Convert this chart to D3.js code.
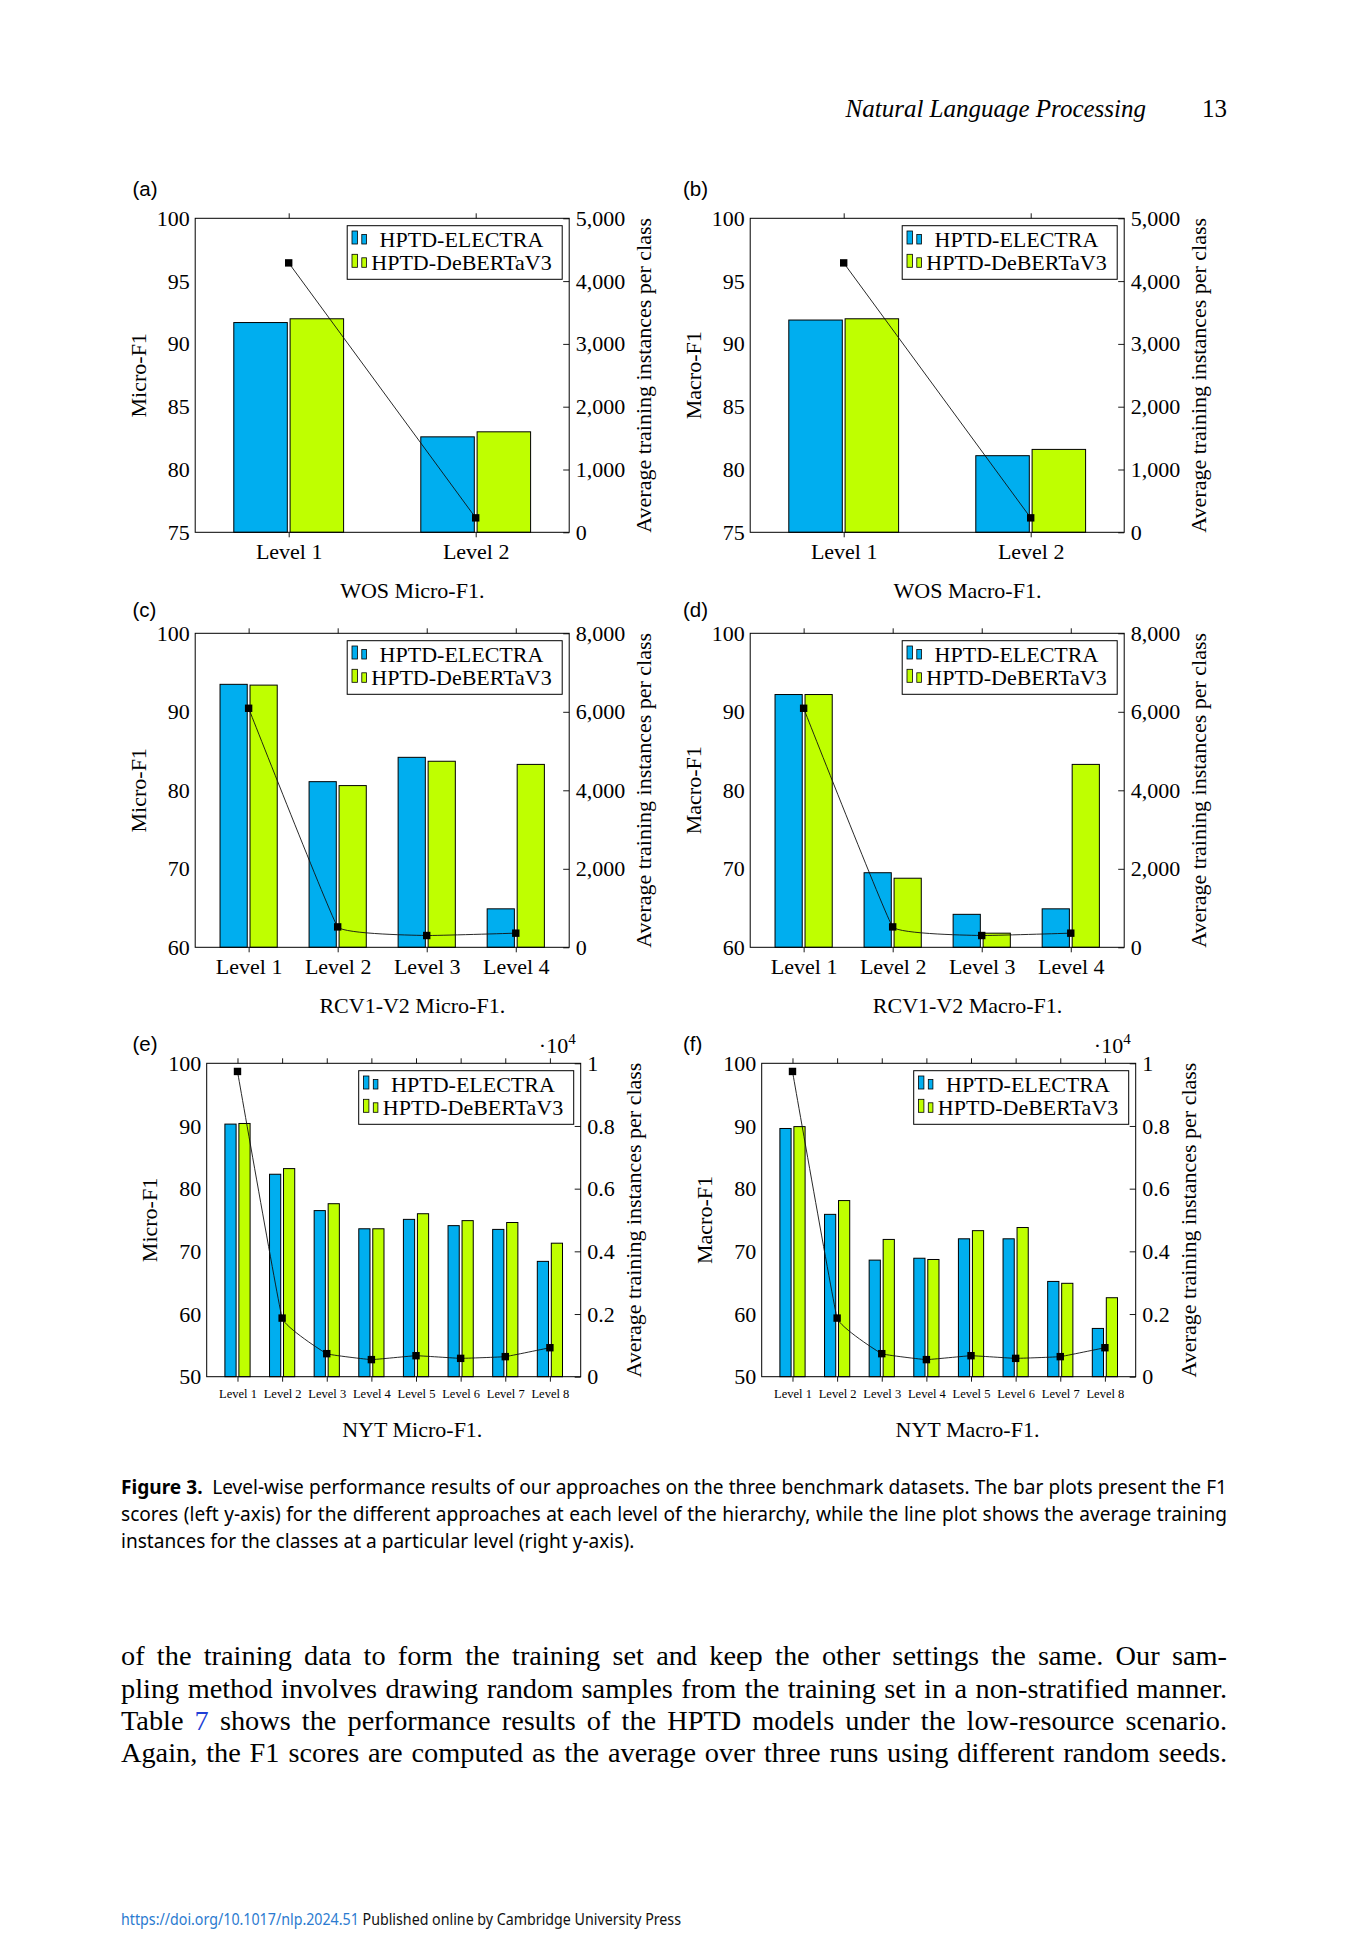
<!DOCTYPE html>
<html>
<head>
<meta charset="utf-8">
<script src="https://cdn.jsdelivr.net/npm/d3@7"></script>
<style>
  body { margin: 0; background: #fff; }
  svg { display: block; }
</style>
</head>
<body>
<svg id="page"></svg>
<script>
// ---- data ----
const wosLevels = ["Level 1", "Level 2"];
const rcvLevels = ["Level 1", "Level 2", "Level 3", "Level 4"];
const nytLevels = ["Level 1", "Level 2", "Level 3", "Level 4", "Level 5", "Level 6", "Level 7", "Level 8"];
const seriesNames = ["HPTD-ELECTRA", "HPTD-DeBERTaV3"];

const wosMicroElectra = [91.7, 82.6];
const wosMicroDeberta = [92.0, 83.0];
const wosMacroElectra = [91.9, 81.1];
const wosMacroDeberta = [92.0, 81.6];

const rcvMicroElectra = [93.5, 81.1, 84.2, 64.9];
const rcvMicroDeberta = [93.4, 80.6, 83.7, 83.3];
const rcvMacroElectra = [92.2, 69.5, 64.2, 64.9];
const rcvMacroDeberta = [92.2, 68.8, 61.8, 83.3];

const nytMicroElectra = [90.3, 82.3, 76.5, 73.6, 75.1, 74.1, 73.5, 68.4];
const nytMicroDeberta = [90.4, 83.2, 77.6, 73.6, 76.0, 74.9, 74.6, 71.3];
const nytMacroElectra = [89.6, 75.9, 68.6, 68.9, 72.0, 72.0, 65.2, 57.7];
const nytMacroDeberta = [89.9, 78.1, 71.9, 68.7, 73.3, 73.8, 64.9, 62.6];

// average training instances per class
const wosInstances = [4290, 230];
const rcvInstances = [6090, 520, 300, 360];
const nytInstances = [9740, 1870, 735, 545, 670, 585, 640, 925];

const wosF1Ticks = [75, 80, 85, 90, 95, 100];
const rcvF1Ticks = [60, 70, 80, 90, 100];
const nytF1Ticks = [50, 60, 70, 80, 90, 100];
const wosInstTicks = [0, 1000, 2000, 3000, 4000, 5000];
const rcvInstTicks = [0, 2000, 4000, 6000, 8000];
const nytInstTicks = [0, 2000, 4000, 6000, 8000, 10000];

const COLORS = ["#00aeef", "#bfff00"];
const SERIF = "'Liberation Serif', 'Times New Roman', serif";
const SANS = "'Liberation Sans', Arial, sans-serif";

const PAGE_W = 1370;
const PAGE_H = 1944;
const W = 374;
const GAP = 2.8;

const svg = d3.select("#page").attr("width", PAGE_W).attr("height", PAGE_H);
svg.append("rect").attr("width", PAGE_W).attr("height", PAGE_H).attr("fill", "#fff");

const rows = [
  { top: 218.3, h: 314, lefts: [195.2, 750.2], tagY: 196, titleY: 598.3, tickY: 27, tickFont: 22, y2LabelOff: 82 },
  { top: 633.3, h: 314, lefts: [195.2, 750.2], tagY: 616.5, titleY: 1013.3, tickY: 27, tickFont: 22, y2LabelOff: 82 },
  { top: 1063.3, h: 313.4, lefts: [206.7, 761.7], tagY: 1050.5, titleY: 1436.7, tickY: 21, tickFont: 12.5, y2LabelOff: 60 },
];
const titleX = [412.3, 967.5];
const tagX = [132.5, 683];

const commaFmt = d3.format(",");
const sciFmt = (d) => d3.format("~g")(d / 1e4);

const panels = [
  { row: 0, col: 0, tag: "(a)", levels: wosLevels, series: [wosMicroElectra, wosMicroDeberta], inst: wosInstances,
    f1Ticks: wosF1Ticks, instTicks: wosInstTicks, fmt: commaFmt, yLabel: "Micro-F1", title: "WOS Micro-F1.", pad: 0.5, barW: 53.5 },
  { row: 0, col: 1, tag: "(b)", levels: wosLevels, series: [wosMacroElectra, wosMacroDeberta], inst: wosInstances,
    f1Ticks: wosF1Ticks, instTicks: wosInstTicks, fmt: commaFmt, yLabel: "Macro-F1", title: "WOS Macro-F1.", pad: 0.5, barW: 53.5 },
  { row: 1, col: 0, tag: "(c)", levels: rcvLevels, series: [rcvMicroElectra, rcvMicroDeberta], inst: rcvInstances,
    f1Ticks: rcvF1Ticks, instTicks: rcvInstTicks, fmt: commaFmt, yLabel: "Micro-F1", title: "RCV1-V2 Micro-F1.", pad: 0.6, barW: 27.2 },
  { row: 1, col: 1, tag: "(d)", levels: rcvLevels, series: [rcvMacroElectra, rcvMacroDeberta], inst: rcvInstances,
    f1Ticks: rcvF1Ticks, instTicks: rcvInstTicks, fmt: commaFmt, yLabel: "Macro-F1", title: "RCV1-V2 Macro-F1.", pad: 0.6, barW: 27.2 },
  { row: 2, col: 0, tag: "(e)", levels: nytLevels, series: [nytMicroElectra, nytMicroDeberta], inst: nytInstances,
    f1Ticks: nytF1Ticks, instTicks: nytInstTicks, fmt: sciFmt, sci: true, yLabel: "Micro-F1", title: "NYT Micro-F1.", pad: 0.69, barW: 11.2 },
  { row: 2, col: 1, tag: "(f)", levels: nytLevels, series: [nytMacroElectra, nytMacroDeberta], inst: nytInstances,
    f1Ticks: nytF1Ticks, instTicks: nytInstTicks, fmt: sciFmt, sci: true, yLabel: "Macro-F1", title: "NYT Macro-F1.", pad: 0.69, barW: 11.2 },
];

function styleAxis(sel, size) {
  sel.attr("font-family", SERIF).attr("font-size", size);
  sel.select(".domain").remove();
  sel.selectAll("line").attr("stroke", "#000").attr("stroke-width", 0.9);
  sel.selectAll("text").attr("fill", "#000").attr("font-family", SERIF);
}

function drawPanel(p) {
  const r = rows[p.row];
  const left = r.lefts[p.col];
  const H = r.h;
  const n = p.levels.length;

  const g = svg.append("g").attr("transform", `translate(${left},${r.top})`);

  const x = d3.scaleLinear().domain([-p.pad, n - 1 + p.pad]).range([0, W]);
  const y = d3.scaleLinear().domain(d3.extent(p.f1Ticks)).range([H, 0]);
  const y2 = d3.scaleLinear().domain(d3.extent(p.instTicks)).range([H, 0]);

  // bars
  p.series.forEach((vals, s) => {
    g.append("g")
      .selectAll("rect")
      .data(vals)
      .join("rect")
      .attr("x", (d, i) => x(i) + (s === 0 ? -(GAP / 2 + p.barW) : GAP / 2))
      .attr("width", p.barW)
      .attr("y", (d) => y(d))
      .attr("height", (d) => H - y(d))
      .attr("fill", COLORS[s])
      .attr("stroke", "#000")
      .attr("stroke-width", 1);
  });

  // left axis (labels only)
  const yAxis = g.append("g").call(d3.axisLeft(y).tickValues(p.f1Ticks).tickSize(0).tickPadding(5.5));
  styleAxis(yAxis, 22);

  // right axis, ticks pointing in
  const y2Axis = g
    .append("g")
    .attr("transform", `translate(${W},0)`)
    .call(d3.axisRight(y2).tickValues(p.instTicks).tickSizeInner(-6).tickSizeOuter(0).tickPadding(6.5).tickFormat(p.fmt));
  styleAxis(y2Axis, 22);

  // bottom axis
  const xAxis = g
    .append("g")
    .attr("transform", `translate(0,${H})`)
    .call(d3.axisBottom(x).tickValues(d3.range(n)).tickSize(5).tickFormat((i) => p.levels[i]));
  styleAxis(xAxis, r.tickFont);
  xAxis.selectAll("text").attr("y", r.tickY).attr("dy", 0);

  // top ticks
  const topAxis = g.append("g").call(d3.axisTop(x).tickValues(d3.range(n)).tickSize(5).tickFormat(""));
  styleAxis(topAxis, 10);

  // frame
  g.append("rect")
    .attr("width", W)
    .attr("height", H)
    .attr("fill", "none")
    .attr("stroke", "#000")
    .attr("stroke-width", 1);

  // line of instances, only lightly rounded
  const line = d3
    .line()
    .x((d, i) => x(i))
    .y((d) => y2(d))
    .curve(d3.curveCardinal.tension(0.8));

  g.append("path")
    .datum(p.inst)
    .attr("d", line)
    .attr("fill", "none")
    .attr("stroke", "#111")
    .attr("stroke-width", 0.9);

  g.append("g")
    .selectAll("rect")
    .data(p.inst)
    .join("rect")
    .attr("x", (d, i) => x(i) - 3.7)
    .attr("y", (d) => y2(d) - 3.7)
    .attr("width", 7.4)
    .attr("height", 7.4)
    .attr("fill", "#000");

  // legend
  const lw = 215, lh = 53.6;
  const lg = g.append("g").attr("transform", `translate(${W - 7 - lw},7.4)`);
  lg.append("rect")
    .attr("width", lw)
    .attr("height", lh)
    .attr("fill", "#fff")
    .attr("stroke", "#000")
    .attr("stroke-width", 1);
  seriesNames.forEach((name, s) => {
    const dy = s * 23.3;
    lg.append("rect").attr("x", 4.8).attr("y", 5.3 + dy).attr("width", 5.4).attr("height", 13)
      .attr("fill", COLORS[s]).attr("stroke", "#000").attr("stroke-width", 0.8);
    lg.append("rect").attr("x", 14.6).attr("y", 8.8 + dy).attr("width", 4.6).attr("height", 9.5)
      .attr("fill", COLORS[s]).attr("stroke", "#000").attr("stroke-width", 0.8);
    lg.append("text")
      .attr("x", 114.3)
      .attr("y", 21 + dy)
      .attr("text-anchor", "middle")
      .attr("font-family", SERIF)
      .attr("font-size", 22)
      .text(name);
  });

  // x10^4 marker
  if (p.sci) {
    const t = g.append("text")
      .attr("x", W - 5)
      .attr("y", -10)
      .attr("text-anchor", "end")
      .attr("font-family", SERIF)
      .attr("font-size", 22);
    t.append("tspan").text("\u00b710");
    t.append("tspan").attr("font-size", 15).attr("dy", -9).text("4");
  }

  // axis titles
  g.append("text")
    .attr("transform", `translate(-49.5,${H / 2}) rotate(-90)`)
    .attr("text-anchor", "middle")
    .attr("font-family", SERIF)
    .attr("font-size", 22)
    .text(p.yLabel);

  g.append("text")
    .attr("transform", `translate(${W + r.y2LabelOff},${H / 2}) rotate(-90)`)
    .attr("text-anchor", "middle")
    .attr("font-family", SERIF)
    .attr("font-size", 22)
    .text("Average training instances per class");

  // sub-caption and panel tag
  svg.append("text")
    .attr("x", titleX[p.col])
    .attr("y", r.titleY)
    .attr("text-anchor", "middle")
    .attr("font-family", SERIF)
    .attr("font-size", 22)
    .text(p.title);

  svg.append("text")
    .attr("x", tagX[p.col])
    .attr("y", r.tagY)
    .attr("font-family", SANS)
    .attr("font-size", 20.5)
    .text(p.tag);
}

panels.forEach(drawPanel);

// ---- page text ----
function justify(sel, width) {
  const node = sel.node();
  const natural = node.getComputedTextLength();
  const spaces = (node.textContent.match(/ /g) || []).length;
  if (natural < width && spaces) sel.attr("word-spacing", (width - natural) / spaces);
  else sel.attr("textLength", width).attr("lengthAdjust", "spacingAndGlyphs");
}

const TEXT_L = 121;
const TEXT_R = 1227;

// running head
svg.append("text")
  .attr("x", 1146).attr("y", 117)
  .attr("text-anchor", "end")
  .attr("font-family", SERIF).attr("font-style", "italic").attr("font-size", 25)
  .text("Natural Language Processing");
svg.append("text")
  .attr("x", TEXT_R).attr("y", 117)
  .attr("text-anchor", "end")
  .attr("font-family", SERIF).attr("font-size", 25)
  .text("13");

// figure caption (condensed sans)
const captionLines = [
  "Level-wise performance results of our approaches on the three benchmark datasets. The bar plots present the F1",
  "scores (left y-axis) for the different approaches at each level of the hierarchy, while the line plot shows the average training",
  "instances for the classes at a particular level (right y-axis).",
];
const capG = svg.append("g").attr("font-family", "'Noto Sans', 'Open Sans', sans-serif").attr("font-size", 19);
const capTexts = captionLines.map((txt, i) => {
  const t = capG.append("text").attr("x", 0).attr("y", 1494 + i * 27);
  if (i === 0) {
    t.append("tspan").attr("font-weight", "bold").text("Figure 3.");
    t.append("tspan").text("\u2002" + txt);
  } else {
    t.text(txt);
  }
  return t;
});
const sx = 513.6 / capTexts[2].node().getComputedTextLength();
capG.attr("transform", `translate(${TEXT_L},0) scale(${sx},1)`);
justify(capTexts[0], (TEXT_R - TEXT_L) / sx);
justify(capTexts[1], (TEXT_R - TEXT_L) / sx);

// body text (slightly widened serif, justified)
const bodyG = svg.append("g").attr("font-family", SERIF).attr("font-size", 26.5);
const bodyLines = [
  "of the training data to form the training set and keep the other settings the same. Our sam-",
  "pling method involves drawing random samples from the training set in a non-stratified manner.",
  null,
  "Again, the F1 scores are computed as the average over three runs using different random seeds.",
];
const bodyTexts = bodyLines.map((txt, i) => {
  const t = bodyG.append("text").attr("x", 0).attr("y", 1665.5 + i * 32.2);
  if (txt === null) {
    t.append("tspan").text("Table ");
    t.append("tspan").attr("fill", "#1f3fd6").text("7");
    t.append("tspan").text(" shows the performance results of the HPTD models under the low-resource scenario.");
  } else {
    t.text(txt);
  }
  return t;
});
const bodyNatural = d3.max(bodyTexts, (t) => t.node().getComputedTextLength());
const bx = ((TEXT_R - TEXT_L) / bodyNatural) * 0.985;
bodyG.attr("transform", `translate(${TEXT_L},0) scale(${bx},1)`);
bodyTexts.forEach((t) => justify(t, (TEXT_R - TEXT_L) / bx));

// footer
const foot = svg.append("text")
  .attr("x", TEXT_L).attr("y", 1925)
  .attr("font-family", "'Noto Sans', 'Open Sans', sans-serif").attr("font-size", 15.5)
  .attr("textLength", 560).attr("lengthAdjust", "spacingAndGlyphs");
foot.append("tspan").attr("fill", "#2b7bd0").text("https://doi.org/10.1017/nlp.2024.51");
foot.append("tspan").attr("fill", "#111").text(" Published online by Cambridge University Press");
</script>
</body>
</html>
